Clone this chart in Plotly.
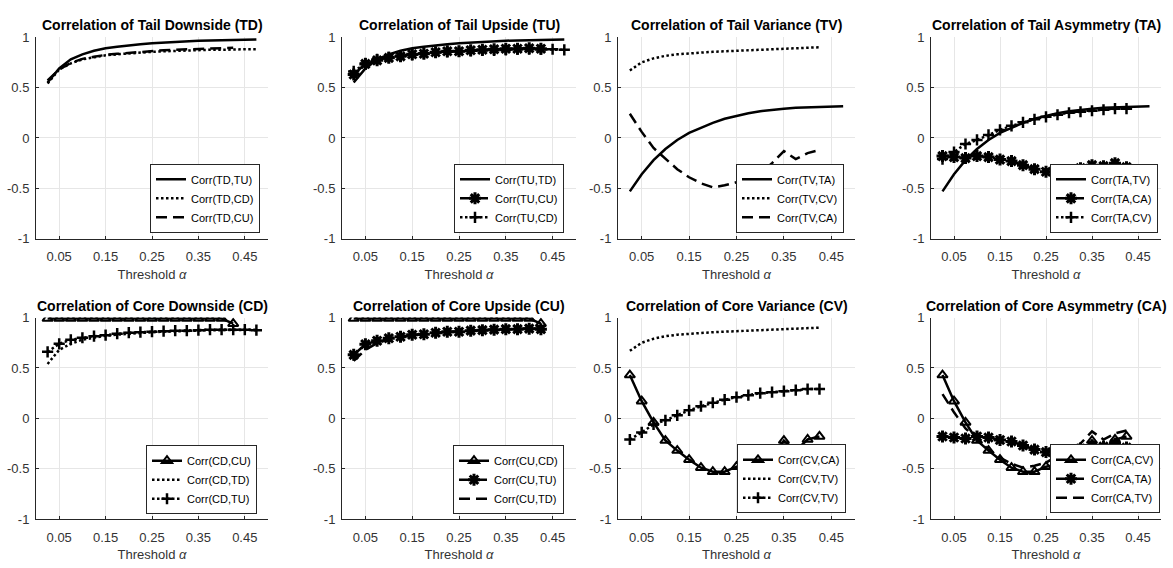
import plotly.graph_objects as go

# ---------------- data ----------------
alpha19 = [0.025, 0.05, 0.075, 0.1, 0.125, 0.15, 0.175, 0.2, 0.225, 0.25,
           0.275, 0.3, 0.325, 0.35, 0.375, 0.4, 0.425, 0.45, 0.475]
alpha17 = alpha19[:17]

TD_TU = [0.55, 0.69, 0.78, 0.83, 0.865, 0.89, 0.905, 0.92, 0.93, 0.94,
         0.948, 0.955, 0.96, 0.965, 0.968, 0.971, 0.974, 0.976, 0.978]
TD_CD = [0.54, 0.68, 0.74, 0.78, 0.80, 0.82, 0.83, 0.84, 0.85, 0.855,
         0.86, 0.865, 0.87, 0.87, 0.875, 0.875, 0.88, 0.88, 0.88]
TD_CU = [0.57, 0.68, 0.745, 0.785, 0.805, 0.825, 0.835, 0.845, 0.855, 0.86,
         0.87, 0.875, 0.88, 0.885, 0.89, 0.89, 0.895]
TU_CU = [0.63, 0.735, 0.77, 0.795, 0.81, 0.83, 0.835, 0.85, 0.86, 0.86,
         0.87, 0.875, 0.88, 0.885, 0.885, 0.89, 0.885]
TU_CD = [0.66, 0.74, 0.78, 0.80, 0.815, 0.825, 0.84, 0.85, 0.855, 0.86,
         0.865, 0.87, 0.87, 0.875, 0.88, 0.88, 0.88, 0.88, 0.875]
CD_CU = [0.99, 0.99, 0.99, 0.99, 0.99, 0.99, 0.99, 0.99, 0.99, 0.99,
         0.99, 0.99, 0.99, 0.99, 0.99, 0.99, 0.94]
TV_TA = [-0.53, -0.36, -0.22, -0.11, -0.02, 0.05, 0.10, 0.15, 0.19, 0.22,
         0.245, 0.265, 0.28, 0.29, 0.30, 0.305, 0.31, 0.31, 0.315]
TV_CV = [0.67, 0.75, 0.79, 0.815, 0.83, 0.84, 0.85, 0.855, 0.86, 0.865,
         0.87, 0.875, 0.88, 0.885, 0.89, 0.895, 0.90]
TV_CA = [0.24, 0.06, -0.10, -0.21, -0.31, -0.39, -0.45, -0.49, -0.47, -0.44,
         -0.37, -0.35, -0.25, -0.13, -0.21, -0.15, -0.12]
TA_CA = [-0.18, -0.19, -0.20, -0.18, -0.19, -0.215, -0.23, -0.27, -0.31, -0.335,
         -0.34, -0.335, -0.30, -0.27, -0.28, -0.25, -0.29]
TA_CV = [-0.21, -0.14, -0.06, -0.02, 0.03, 0.08, 0.12, 0.155, 0.185, 0.21,
         0.23, 0.25, 0.26, 0.27, 0.28, 0.29, 0.29]
CV_CA = [0.43, 0.17, -0.04, -0.22, -0.32, -0.41, -0.49, -0.53, -0.53, -0.48,
         -0.46, -0.43, -0.38, -0.22, -0.32, -0.21, -0.18]

titles = ["Correlation of Tail Downside (TD)", "Correlation of Tail Upside (TU)",
          "Correlation of Tail Variance (TV)", "Correlation of Tail Asymmetry (TA)",
          "Correlation of Core Downside (CD)", "Correlation of Core Upside (CU)",
          "Correlation of Core Variance (CV)", "Correlation of Core Asymmetry (CA)"]

x_ticks = [0.05, 0.15, 0.25, 0.35, 0.45]
x_ticklabels = ["0.05", "0.15", "0.25", "0.35", "0.45"]
y_ticks = [-1, -0.5, 0, 0.5, 1]
y_ticklabels = ["-1", "-0.5", "0", "0.5", "1"]

# (name, x, y, style)
panels = [
    [("Corr(TD,TU)", alpha19, TD_TU, "solid"),
     ("Corr(TD,CD)", alpha19, TD_CD, "dot"),
     ("Corr(TD,CU)", alpha17, TD_CU, "dash")],
    [("Corr(TU,TD)", alpha19, TD_TU, "solid"),
     ("Corr(TU,CU)", alpha17, TU_CU, "dash*"),
     ("Corr(TU,CD)", alpha19, TU_CD, "dot+")],
    [("Corr(TV,TA)", alpha19, TV_TA, "solid"),
     ("Corr(TV,CV)", alpha17, TV_CV, "dot"),
     ("Corr(TV,CA)", alpha17, TV_CA, "dash")],
    [("Corr(TA,TV)", alpha19, TV_TA, "solid"),
     ("Corr(TA,CA)", alpha17, TA_CA, "dash*"),
     ("Corr(TA,CV)", alpha17, TA_CV, "dot+")],
    [("Corr(CD,CU)", alpha17, CD_CU, "solid^"),
     ("Corr(CD,TD)", alpha19, TD_CD, "dot"),
     ("Corr(CD,TU)", alpha19, TU_CD, "dot+")],
    [("Corr(CU,CD)", alpha17, CD_CU, "solid^"),
     ("Corr(CU,TU)", alpha17, TU_CU, "dash*"),
     ("Corr(CU,TD)", alpha17, TD_CU, "dash")],
    [("Corr(CV,CA)", alpha17, CV_CA, "solid^"),
     ("Corr(CV,TV)", alpha17, TV_CV, "dot"),
     ("Corr(CV,TV)", alpha17, TA_CV, "dot+")],
    [("Corr(CA,CV)", alpha17, CV_CA, "solid^"),
     ("Corr(CA,TA)", alpha17, TA_CA, "dash*"),
     ("Corr(CA,TV)", alpha17, TV_CA, "dash")],
]

# ---------------- layout geometry (pixels) ----------------
W, H = 1173, 568
col_px = [(36, 268), (342, 576), (618, 855), (931, 1161)]
row_px = [(31, 238), (319, 526)]
legend_br = [(260, 232), (564, 232), (844, 232), (1158, 232),
             (257, 521), (564, 521), (846, 520), (1160, 520)]

DASH = "11px,6px"
DOT = "2.5px,2.5px"

fig = go.Figure()
layout = dict(width=W, height=H, margin=dict(l=0, r=0, t=0, b=0),
              paper_bgcolor="white", plot_bgcolor="white",
              font=dict(family="Liberation Sans, Arial, sans-serif", color="#262626"))
annotations = []

for i, series in enumerate(panels):
    r, c = divmod(i, 4)
    idx = "" if i == 0 else str(i + 1)
    x0, x1 = col_px[c]
    yt, yb = row_px[r]
    xd = [x0 / W, x1 / W]
    yd = [1 - yb / H, 1 - yt / H]
    leg = "legend" + idx
    for name, xs, ys, st in series:
        line = dict(color="black", width=2.5)
        mode = "lines"
        marker = None
        if st.startswith("dash"):
            line["dash"] = DASH
        elif st.startswith("dot"):
            line["dash"] = DOT
        if st.endswith("*"):
            mode = "lines+markers"
            marker = dict(symbol="asterisk-open", size=10, color="black",
                          line=dict(color="black", width=3))
        elif st.endswith("+"):
            mode = "lines+markers"
            marker = dict(symbol="cross-thin-open", size=8, color="black",
                          line=dict(color="black", width=2.5))
        elif st.endswith("^"):
            mode = "lines+markers"
            marker = dict(symbol="triangle-up-open", size=9, color="black",
                          line=dict(color="black", width=2))
        fig.add_trace(go.Scatter(x=xs, y=ys, name=name, mode=mode, line=line,
                                 marker=marker, xaxis="x" + idx, yaxis="y" + idx,
                                 legend=leg, showlegend=True))
    layout["xaxis" + idx] = dict(
        domain=xd, anchor="y" + idx, range=[0, 0.5], tickvals=x_ticks,
        ticktext=x_ticklabels, showgrid=True, gridcolor="#e6e6e6", gridwidth=1,
        zeroline=False, showline=True, linecolor="#262626", linewidth=1,
        ticks="inside", ticklen=3, tickcolor="#262626", ticklabelstandoff=6,
        tickfont=dict(size=13, color="#333333"),
        title=dict(text="Threshold <i>α</i>", font=dict(size=13, color="#333333"),
                   standoff=6))
    layout["yaxis" + idx] = dict(
        domain=yd, anchor="x" + idx, range=[-1, 1], tickvals=y_ticks,
        ticktext=y_ticklabels, showgrid=True, gridcolor="#e6e6e6", gridwidth=1,
        zeroline=False, showline=True, linecolor="#262626", linewidth=1,
        ticks="inside", ticklen=3, tickcolor="#262626", ticklabelstandoff=3,
        tickfont=dict(size=13, color="#333333"))
    lx, ly = legend_br[i]
    layout[leg] = dict(x=lx / W, y=1 - ly / H, xanchor="right", yanchor="bottom",
                       xref="paper", yref="paper",
                       bgcolor="white", bordercolor="#262626", borderwidth=1,
                       font=dict(size=11, color="black"), tracegroupgap=0,
                       itemwidth=30)
    annotations.append(dict(text="<b>" + titles[i] + "</b>", x=(xd[0] + xd[1]) / 2,
                            y=1 - (yt - 12) / H, xref="paper", yref="paper",
                            xanchor="center", yanchor="middle", showarrow=False,
                            font=dict(size=14, color="black")))

layout["annotations"] = annotations
fig.update_layout(**layout)
fig.write_html("out.html")
